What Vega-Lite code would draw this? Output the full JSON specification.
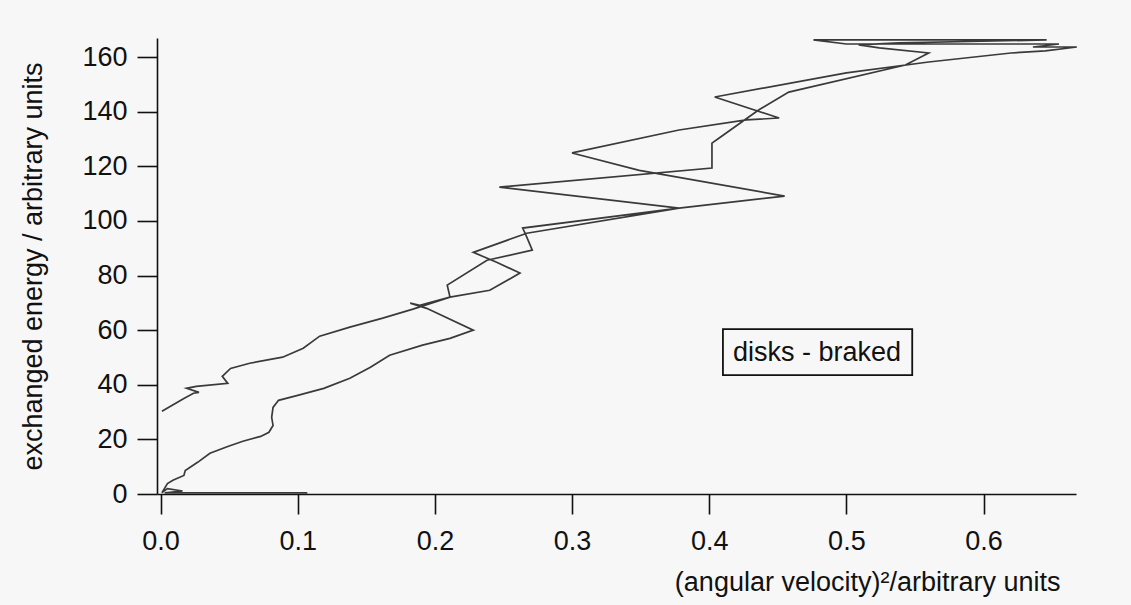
{
  "$schema": "https://vega.github.io/schema/vega-lite/v6.json",
  "width": 919,
  "height": 456,
  "autosize": {"type": "none"},
  "padding": {"left": 157, "top": 38, "right": 55, "bottom": 111},
  "background": "#f7f7f7",
  "config": {
    "view": {"stroke": null},
    "font": "Liberation Sans",
    "axis": {
      "grid": false,
      "domainColor": "#111111",
      "domainWidth": 1.6,
      "tickColor": "#111111",
      "tickWidth": 1.6,
      "tickSize": 20,
      "labelFont": "Liberation Sans",
      "labelFontSize": 27,
      "labelColor": "#111111",
      "titleFont": "Liberation Sans",
      "titleFontSize": 27,
      "titleFontWeight": "normal",
      "titleColor": "#111111"
    }
  },
  "layer": [
    {
      "data": {
        "values": [
          {"i": 0, "x": 0.107, "y": 0.4},
          {"i": 1, "x": 0.003, "y": 0.4},
          {"i": 2, "x": 0.016, "y": 1.1},
          {"i": 3, "x": 0.005, "y": 2.0},
          {"i": 4, "x": 0.001, "y": 0.5},
          {"i": 5, "x": 0.002, "y": 1.3},
          {"i": 6, "x": 0.005, "y": 3.8},
          {"i": 7, "x": 0.009, "y": 5.0},
          {"i": 8, "x": 0.017, "y": 6.8},
          {"i": 9, "x": 0.018, "y": 8.6},
          {"i": 10, "x": 0.027, "y": 11.6},
          {"i": 11, "x": 0.036, "y": 14.9},
          {"i": 12, "x": 0.049, "y": 17.4},
          {"i": 13, "x": 0.060, "y": 19.3},
          {"i": 14, "x": 0.073, "y": 21.1},
          {"i": 15, "x": 0.079, "y": 22.6},
          {"i": 16, "x": 0.082, "y": 25.1},
          {"i": 17, "x": 0.081, "y": 28.1},
          {"i": 18, "x": 0.082, "y": 31.7},
          {"i": 19, "x": 0.086, "y": 34.3},
          {"i": 20, "x": 0.100, "y": 36.1},
          {"i": 21, "x": 0.119, "y": 38.7},
          {"i": 22, "x": 0.138, "y": 42.4},
          {"i": 23, "x": 0.153, "y": 46.4},
          {"i": 24, "x": 0.167, "y": 50.8},
          {"i": 25, "x": 0.191, "y": 54.5},
          {"i": 26, "x": 0.211, "y": 57.0},
          {"i": 27, "x": 0.228, "y": 60.0},
          {"i": 28, "x": 0.194, "y": 68.0},
          {"i": 29, "x": 0.182, "y": 69.9},
          {"i": 30, "x": 0.189, "y": 69.1},
          {"i": 31, "x": 0.211, "y": 72.1},
          {"i": 32, "x": 0.209, "y": 76.5},
          {"i": 33, "x": 0.238, "y": 85.6},
          {"i": 34, "x": 0.271, "y": 89.3},
          {"i": 35, "x": 0.267, "y": 94.1},
          {"i": 36, "x": 0.264, "y": 97.4},
          {"i": 37, "x": 0.378, "y": 104.7},
          {"i": 38, "x": 0.455, "y": 109.1},
          {"i": 39, "x": 0.349, "y": 118.5},
          {"i": 40, "x": 0.300, "y": 124.9},
          {"i": 41, "x": 0.378, "y": 133.3},
          {"i": 42, "x": 0.427, "y": 137.0},
          {"i": 43, "x": 0.451, "y": 137.7},
          {"i": 44, "x": 0.404, "y": 145.4},
          {"i": 45, "x": 0.500, "y": 154.2},
          {"i": 46, "x": 0.560, "y": 158.2},
          {"i": 47, "x": 0.620, "y": 161.5},
          {"i": 48, "x": 0.645, "y": 162.3},
          {"i": 49, "x": 0.668, "y": 163.7},
          {"i": 50, "x": 0.636, "y": 163.7},
          {"i": 51, "x": 0.655, "y": 164.8},
          {"i": 52, "x": 0.500, "y": 164.8},
          {"i": 53, "x": 0.476, "y": 166.3},
          {"i": 54, "x": 0.646, "y": 166.3},
          {"i": 55, "x": 0.538, "y": 165.2},
          {"i": 56, "x": 0.509, "y": 164.5},
          {"i": 57, "x": 0.524, "y": 163.4},
          {"i": 58, "x": 0.560, "y": 161.5},
          {"i": 59, "x": 0.543, "y": 157.1},
          {"i": 60, "x": 0.458, "y": 147.2},
          {"i": 61, "x": 0.436, "y": 140.6},
          {"i": 62, "x": 0.407, "y": 130.3},
          {"i": 63, "x": 0.402, "y": 128.5},
          {"i": 64, "x": 0.402, "y": 119.4},
          {"i": 65, "x": 0.247, "y": 112.4},
          {"i": 66, "x": 0.378, "y": 104.7},
          {"i": 67, "x": 0.267, "y": 95.5},
          {"i": 68, "x": 0.228, "y": 88.5},
          {"i": 69, "x": 0.245, "y": 84.9},
          {"i": 70, "x": 0.262, "y": 80.9},
          {"i": 71, "x": 0.240, "y": 74.6},
          {"i": 72, "x": 0.211, "y": 72.1},
          {"i": 73, "x": 0.184, "y": 67.7},
          {"i": 74, "x": 0.162, "y": 64.4},
          {"i": 75, "x": 0.138, "y": 61.1},
          {"i": 76, "x": 0.116, "y": 57.8},
          {"i": 77, "x": 0.104, "y": 53.4},
          {"i": 78, "x": 0.089, "y": 50.1},
          {"i": 79, "x": 0.065, "y": 47.9},
          {"i": 80, "x": 0.051, "y": 46.0},
          {"i": 81, "x": 0.045, "y": 43.1},
          {"i": 82, "x": 0.049, "y": 40.5},
          {"i": 83, "x": 0.026, "y": 39.4},
          {"i": 84, "x": 0.019, "y": 38.7},
          {"i": 85, "x": 0.028, "y": 37.2},
          {"i": 86, "x": 0.024, "y": 36.9},
          {"i": 87, "x": 0.017, "y": 35.0},
          {"i": 88, "x": 0.001, "y": 30.3}
        ]
      },
      "mark": {"type": "line", "color": "#3a3a3a", "strokeWidth": 1.7, "clip": false},
      "encoding": {
        "x": {
          "field": "x",
          "type": "quantitative",
          "scale": {"domain": [-0.0026, 0.6674], "nice": false, "zero": false},
          "axis": {
            "values": [0, 0.1, 0.2, 0.3, 0.4, 0.5, 0.6],
            "format": ".1f",
            "labelPadding": 14,
            "title": "(angular velocity)²/arbitrary units",
            "titleAnchor": "end",
            "titleAlign": "right",
            "titleBaseline": "alphabetic",
            "titleX": 903,
            "titleY": 96
          }
        },
        "y": {
          "field": "y",
          "type": "quantitative",
          "scale": {"domain": [0, 167], "nice": false},
          "axis": {
            "values": [0, 20, 40, 60, 80, 100, 120, 140, 160],
            "labelPadding": 10,
            "title": "exchanged energy / arbitrary units",
            "titlePadding": 34
          }
        },
        "order": {"field": "i", "type": "quantitative"}
      }
    },
    {
      "data": {"values": [{"label": "disks - braked"}]},
      "mark": {"type": "rect", "fill": null, "fillOpacity": 0, "stroke": "#111111", "strokeWidth": 1.8},
      "encoding": {
        "x": {"datum": 0.410},
        "x2": {"datum": 0.548},
        "y": {"datum": 43.5},
        "y2": {"datum": 60.4}
      }
    },
    {
      "data": {"values": [{"label": "disks - braked"}]},
      "mark": {"type": "text", "font": "Liberation Sans", "fontSize": 27, "fontWeight": "normal", "color": "#111111", "align": "center", "baseline": "middle"},
      "encoding": {
        "x": {"datum": 0.4786},
        "y": {"datum": 51.5},
        "text": {"field": "label"}
      }
    }
  ]
}
